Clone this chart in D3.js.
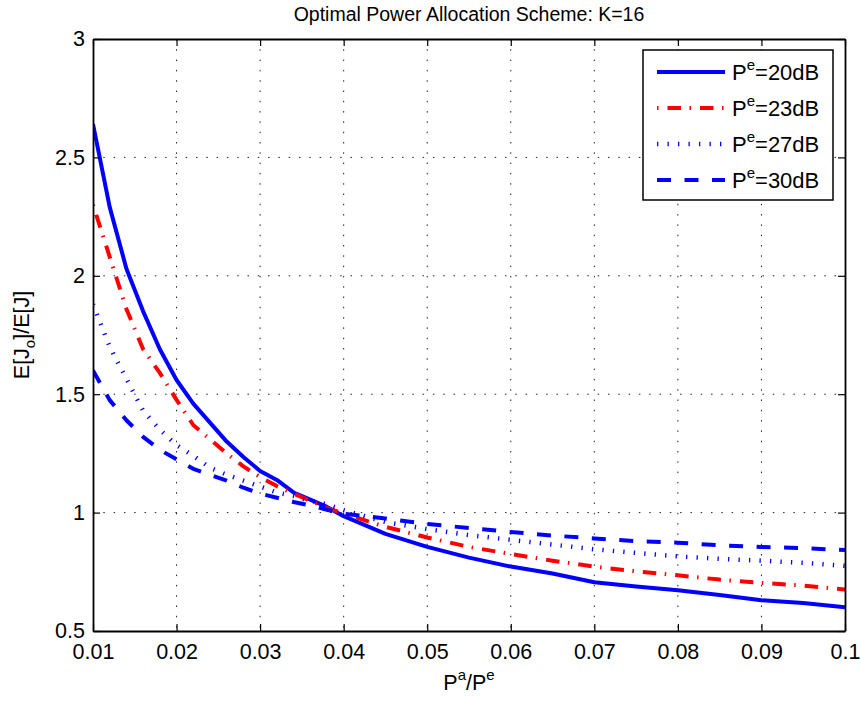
<!DOCTYPE html>
<html>
<head>
<meta charset="utf-8">
<script src="https://cdn.jsdelivr.net/npm/d3@7"></script>
<style>
  body { margin: 0; background: #fff; }
  svg text { font-family: "Liberation Sans", Arial, Helvetica, sans-serif; fill: #000; }
  .axis path, .axis line { stroke: #000; }
  .axis path { stroke-width: 1.8; }
  .axis line { stroke-width: 1.2; }
  .grid line { stroke: #222; stroke-width: 1; stroke-dasharray: 1.5,8.8; }
</style>
</head>
<body>
<div id="chart"></div>
<script>
'use strict';

// P^a/P^e sample points
const xValues = [0.010, 0.012, 0.014, 0.016, 0.018, 0.020, 0.022, 0.024, 0.026, 0.028,
                 0.030, 0.032, 0.034, 0.036, 0.038, 0.040, 0.045, 0.050, 0.055, 0.060,
                 0.065, 0.070, 0.075, 0.080, 0.085, 0.090, 0.095, 0.100];

// E[Jo]/E[J] for each P^e
const pe20 = [2.64, 2.29, 2.03, 1.85, 1.69, 1.56, 1.46, 1.38, 1.30, 1.235,
              1.176, 1.138, 1.085, 1.055, 1.024, 0.985, 0.91, 0.855, 0.81, 0.772,
              0.743, 0.706, 0.688, 0.672, 0.652, 0.630, 0.618, 0.600];
const pe23 = [2.30, 2.08, 1.86, 1.69, 1.59, 1.476, 1.37, 1.31, 1.25, 1.195,
              1.15, 1.112, 1.08, 1.05, 1.02, 0.996, 0.94, 0.895, 0.855, 0.825,
              0.797, 0.772, 0.752, 0.735, 0.717, 0.703, 0.692, 0.675];
const pe27 = [1.88, 1.70, 1.565, 1.43, 1.35, 1.285, 1.24, 1.19, 1.16, 1.135,
              1.11, 1.085, 1.07, 1.05, 1.035, 1.01, 0.96, 0.93, 0.905, 0.885,
              0.865, 0.845, 0.83, 0.815, 0.805, 0.797, 0.788, 0.775];
const pe30 = [1.60, 1.475, 1.39, 1.32, 1.265, 1.225, 1.185, 1.16, 1.135, 1.105,
              1.08, 1.063, 1.045, 1.03, 1.012, 0.995, 0.975, 0.952, 0.935, 0.918,
              0.903, 0.891, 0.879, 0.873, 0.862, 0.855, 0.85, 0.842];

const seriesLabels = ["20dB", "23dB", "27dB", "30dB"];

const xTicks = [0.01, 0.02, 0.03, 0.04, 0.05, 0.06, 0.07, 0.08, 0.09, 0.1];
const xTickLabels = ["0.01", "0.02", "0.03", "0.04", "0.05", "0.06", "0.07", "0.08", "0.09", "0.1"];
const yTicks = [0.5, 1, 1.5, 2, 2.5, 3];
const yTickLabels = ["0.5", "1", "1.5", "2", "2.5", "3"];

class PowerChart {
    constructor(containerElement) {
        this.margin = {top: 39, right: 16, bottom: 71, left: 93};
        this.width = 861 - this.margin.left - this.margin.right;
        this.height = 702 - this.margin.top - this.margin.bottom;

        this.x = d3.scaleLinear().domain([0.01, 0.1]).range([0, this.width]);
        this.y = d3.scaleLinear().domain([0.5, 3]).range([this.height, 0]);

        this.line = d3.line()
            .x(function(d) { return this.x(d.x); }.bind(this))
            .y(function(d) { return this.y(d.y); }.bind(this));

        this.root = d3.select(containerElement)
            .append("svg")
            .attr("width", 861)
            .attr("height", 702);

        this.svg = this.root.append("g")
            .attr("transform", "translate(" + this.margin.left + "," + this.margin.top + ")");

        // line styles per series, in the order of seriesLabels
        this.styles = [
            {color: "#0000ff", width: 4, dash: null},
            {color: "#ff0000", width: 4, dash: "1.5,9,13.5,8.5"},
            {color: "#0000ff", width: 4.5, dash: "1.3,9.2"},
            {color: "#0000ff", width: 4, dash: "14,13.5"}
        ];
    }

    // text with raised/lowered pieces: parts = [[text, shift], ...]
    richText(sel, parts, size) {
        let prev = 0;
        parts.forEach(function(p) {
            const shift = p[1];
            sel.append("tspan")
                .attr("dy", (prev - shift) * size)
                .style("font-size", shift === 0 ? size + "px" : Math.round(size * 0.7) + "px")
                .text(p[0]);
            prev = shift;
        });
        return sel;
    }

    setup() {
        const series = [pe20, pe23, pe27, pe30].map(function(vals) {
            return vals.map(function(v, i) { return {x: xValues[i], y: v}; });
        });

        // dotted grid
        const grid = this.svg.append("g").attr("class", "grid");
        grid.selectAll(".gx")
            .data(xTicks.slice(1, -1))
            .enter().append("line")
            .attr("x1", function(d) { return this.x(d); }.bind(this))
            .attr("x2", function(d) { return this.x(d); }.bind(this))
            .attr("y1", 0)
            .attr("y2", this.height);
        grid.selectAll(".gy")
            .data(yTicks.slice(1, -1))
            .enter().append("line")
            .attr("y1", function(d) { return this.y(d); }.bind(this))
            .attr("y2", function(d) { return this.y(d); }.bind(this))
            .attr("x1", 0)
            .attr("x2", this.width);

        this.svg.append("clipPath").attr("id", "plot-clip")
            .append("rect").attr("width", this.width).attr("height", this.height);

        const styles = this.styles;
        this.svg.append("g")
            .attr("clip-path", "url(#plot-clip)")
            .selectAll("path")
            .data(series)
            .enter().append("path")
            .attr("d", this.line)
            .attr("fill", "none")
            .attr("stroke", function(d, i) { return styles[i].color; })
            .attr("stroke-width", function(d, i) { return styles[i].width; })
            .attr("stroke-dasharray", function(d, i) { return styles[i].dash; })
            .attr("stroke-linejoin", "round");

        // box with inward ticks on all four sides
        const fmtX = function(d) { return xTickLabels[xTicks.indexOf(d)]; };
        const fmtY = function(d) { return yTickLabels[yTicks.indexOf(d)]; };

        this.svg.append("g")
            .attr("class", "axis axis--x")
            .attr("transform", "translate(0," + this.height + ")")
            .call(d3.axisBottom(this.x).tickValues(xTicks).tickFormat(fmtX)
                .tickSizeInner(-7).tickSizeOuter(0).tickPadding(13))
            .selectAll("text").style("font-size", "21.5px");

        this.svg.append("g")
            .attr("class", "axis axis--y")
            .call(d3.axisLeft(this.y).tickValues(yTicks).tickFormat(fmtY)
                .tickSizeInner(-7).tickSizeOuter(0).tickPadding(8))
            .selectAll("text").style("font-size", "21.5px");

        this.svg.append("g")
            .attr("class", "axis")
            .call(d3.axisTop(this.x).tickValues(xTicks).tickFormat("")
                .tickSizeInner(-7).tickSizeOuter(0));

        this.svg.append("g")
            .attr("class", "axis")
            .attr("transform", "translate(" + this.width + ",0)")
            .call(d3.axisRight(this.y).tickValues(yTicks).tickFormat("")
                .tickSizeInner(-7).tickSizeOuter(0));

        // title and axis labels
        this.svg.append("text")
            .attr("x", this.width / 2)
            .attr("y", -18)
            .attr("text-anchor", "middle")
            .style("font-size", "19.5px")
            .text("Optimal Power Allocation Scheme: K=16");

        this.richText(this.svg.append("text")
            .attr("x", this.width / 2)
            .attr("y", this.height + 59)
            .attr("text-anchor", "middle"),
            [["P", 0], ["a", 0.45], ["/P", 0], ["e", 0.45]], 21.5);

        this.richText(this.svg.append("text")
            .attr("transform", "translate(-64," + this.height / 2 + ") rotate(-90)")
            .attr("text-anchor", "middle"),
            [["E[J", 0], ["o", -0.3], ["]/E[J]", 0]], 21.5);

        this.drawLegend();
    }

    drawLegend() {
        const lg = this.svg.append("g")
            .attr("class", "legend")
            .attr("transform", "translate(" + (643 - this.margin.left) + "," + (50 - this.margin.top) + ")");

        lg.append("rect")
            .attr("width", 190)
            .attr("height", 150)
            .attr("fill", "#fff")
            .attr("stroke", "#000")
            .attr("stroke-width", 1.5);

        const styles = this.styles;
        const rows = lg.selectAll(".row")
            .data(seriesLabels)
            .enter().append("g")
            .attr("class", "row")
            .attr("transform", function(d, i) { return "translate(0," + (22 + i * 36) + ")"; });

        rows.append("line")
            .attr("x1", 14)
            .attr("x2", 82)
            .attr("stroke", function(d, i) { return styles[i].color; })
            .attr("stroke-width", function(d, i) { return styles[i].width; })
            .attr("stroke-dasharray", function(d, i) { return styles[i].dash; });

        const self = this;
        rows.append("text")
            .attr("x", 89)
            .attr("y", 8)
            .each(function(d) {
                self.richText(d3.select(this), [["P", 0], ["e", 0.45], ["=" + d, 0]], 22);
            });
    }
}

const chart = new PowerChart("#chart");
chart.setup();
</script>
</body>
</html>
